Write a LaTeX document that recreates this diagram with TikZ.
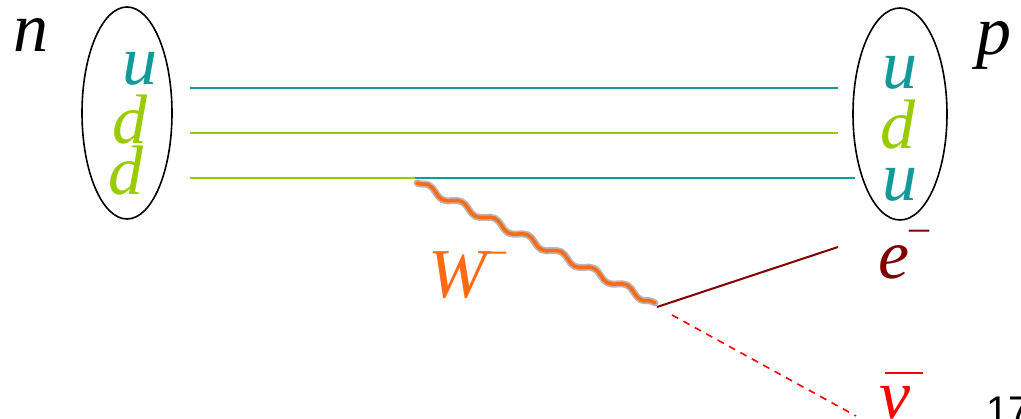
\documentclass[tikz,border=0pt]{standalone}
\usepackage{fontspec}
\setmainfont{Liberation Serif}
\newfontfamily\labelsans{Liberation Sans}
\usetikzlibrary{decorations.pathmorphing}
\definecolor{qteal}{HTML}{129A9A}
\definecolor{qgreen}{HTML}{99CC00}
\definecolor{worange}{HTML}{FF6A13}
\definecolor{whalo}{HTML}{BDB3B3}
\definecolor{edark}{HTML}{800000}
\definecolor{nured}{HTML}{FF0000}
\begin{document}
\begin{tikzpicture}[x=1pt,y=-1pt,
  lbl/.style={inner sep=0pt,anchor=base west,font=\fontsize{70}{70}\selectfont\itshape},
  quarkline/.style={line width=1.8pt},
  wave/.style={decorate,decoration={snake,segment length=37pt,amplitude=3.5pt}},
]
\useasboundingbox (0,0) rectangle (1021,419);
% hadron ellipses
\draw[line width=1.6pt] (127,113) ellipse [x radius=45, y radius=106];
\draw[line width=1.6pt] (900,114) ellipse [x radius=47, y radius=106];
% labels
\node[lbl] (n) at (13,52) {n};
\node[lbl] (p) at (976,55) {p};
\node[lbl,text=qteal] (ul) at (122,85) {u};
\node[lbl,text=qgreen] (dl1) at (112,144) {d};
\node[lbl,text=qgreen] (dl2) at (108,195) {d};
\node[lbl,text=qteal] (ur) at (882,89) {u};
\node[lbl,text=qgreen] (dr) at (880,149) {d};
\node[lbl,text=qteal] (ur2) at (882,201) {u};
% quark lines
\coordinate (a1) at (190,88);  \coordinate (b1) at (838,88);
\coordinate (a2) at (190,133); \coordinate (b2) at (838,133);
\coordinate (a3) at (190,178); \coordinate (v1) at (415,178); \coordinate (b3) at (855,178);
\draw[quarkline,qteal] (a1) -- (b1);
\draw[quarkline,qgreen] (a2) -- (b2);
\draw[quarkline,qgreen] (a3) -- (v1);
\draw[quarkline,qteal] (v1) -- (b3);
% W boson
\coordinate (w1) at (417,183);
\coordinate (v2) at (655,303);
\draw[wave,whalo,line width=7pt,line cap=round] (w1) -- (v2);
\draw[wave,worange,line width=3.5pt,line cap=round] (w1) -- (v2);
\node[lbl,text=worange] (W) at (428,298) {W\raisebox{0.5em}{\fontsize{40}{40}\selectfont\upshape –}};
% leptons
\coordinate (v3) at (657,307);
\coordinate (e1) at (838,247);
\coordinate (v4) at (672,315);
\coordinate (nu1) at (856,416);
\draw[edark,line width=2pt] (v3) -- (e1);
\draw[nured,line width=1.6pt,dash pattern=on 7pt off 6pt] (v4) -- (nu1);
\node[lbl,text=edark] (e) at (878,279) {e\raisebox{0.55em}{\fontsize{40}{40}\selectfont\upshape –}};
\node[lbl,text=nured] (nu) at (879,419) {ν};
\draw[nured,line width=2.6pt] ([xshift=6pt,yshift=46pt]nu.base west) -- ([xshift=44pt,yshift=46pt]nu.base west);
\node[inner sep=0pt,anchor=base west,font=\labelsans\fontsize{40}{40}\selectfont] (pg) at (986,425) {17};
\end{tikzpicture}
\end{document}
